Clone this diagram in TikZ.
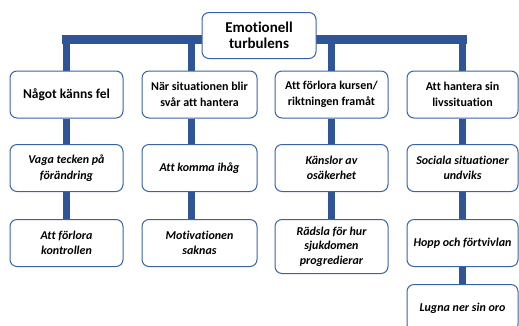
\documentclass[tikz,border=0pt]{standalone}
\usepackage{fontspec}
\setmainfont{Carlito}[Ligatures=NoCommon]
\usetikzlibrary{positioning, backgrounds}
\definecolor{barblue}{HTML}{2F5597}
\definecolor{edgeblue}{HTML}{3A62AA}

\begin{document}
\begin{tikzpicture}[x=1pt, y=-1pt,
			box/.style = {rectangle, rounded corners=7pt, draw=edgeblue, line width=1pt, fill=white, align=center, anchor=north, minimum height=47pt, inner sep=2pt},
			head/.style = {box, minimum width=114pt, minimum height=46pt, font=\bfseries\fontsize{15}{16}\selectfont},
			topic/.style = {box, font=\bfseries\fontsize{12}{15.5}\selectfont},
			item/.style = {box, font=\bfseries\itshape\fontsize{12}{15.5}\selectfont},
			hbar/.style = {barblue, line width=9pt, line cap=rect},
			vbar/.style = {barblue, line width=7pt},
		]

		\useasboundingbox (0,0) rectangle (519,325);
		\clip (0,0) rectangle (519,325);

		\node[head] (top) at (259,12){Emotionell\\turbulens};

		\node[topic, minimum width=113pt, font=\bfseries\fontsize{13.5}{16}\selectfont] (a1) at (66.5,70.5){Något känns fel};
		\node[topic, minimum width=115pt] (b1) at (199.5,70.5){När situationen blir\\svår att hantera};
		\node[topic, minimum width=113pt] (c1) at (331.5,70.5){Att förlora kursen/\\riktningen framåt};
		\node[topic, minimum width=111pt] (d1) at (462.5,70.5){Att hantera sin\\livssituation};

		\node[item, minimum width=113pt] (a2) at (66.5,144){Vaga tecken på\\förändring};
		\node[item, minimum width=115pt] (b2) at (199.5,144){Att komma ihåg};
		\node[item, minimum width=113pt] (c2) at (331.5,144){Känslor av\\osäkerhet};
		\node[item, minimum width=111pt] (d2) at (462.5,144){Sociala situationer\\undviks};

		\node[item, minimum width=113pt] (a3) at (66.5,219){Att förlora\\kontrollen};
		\node[item, minimum width=115pt] (b3) at (199.5,219){Motivationen\\saknas};
		\node[item, minimum width=113pt, minimum height=54pt, font=\bfseries\itshape\fontsize{12}{14.5}\selectfont] (c3) at (331.5,219){Rädsla för hur\\sjukdomen\\progredierar};
		\node[item, minimum width=111pt] (d3) at (462.5,219){Hopp och förtvivlan};

		\node[item, minimum width=111pt] (d4) at (462.5,284){Lugna ner sin oro};

		\begin{scope}[on background layer]
			% bar under the top box
			\draw[hbar]([yshift=-3.5pt]top.center -| a1.north)--([yshift=-3.5pt]top.center -| d1.north);
			\draw[vbar](a1.north)--([yshift=-3.5pt]top.center -| a1.north);
			\draw[vbar]([xshift=-8.5pt]b1.north)--([yshift=-3.5pt,xshift=-8.5pt]top.center -| b1.north);
			\draw[vbar](c1.north)--([yshift=-3.5pt]top.center -| c1.north);
			\draw[vbar](d1.north)--([yshift=-3.5pt]top.center -| d1.north);

			% columns
			\draw[vbar](a1.south)--(a2.north);
			\draw[vbar](a2.south)--(a3.north);
			\draw[vbar]([xshift=-8.5pt]b1.south)--([xshift=-8.5pt]b2.north);
			\draw[vbar]([xshift=-8.5pt]b2.south)--([xshift=-8.5pt]b3.north);
			\draw[vbar](c1.south)--(c2.north);
			\draw[vbar](c2.south)--(c3.north);
			\draw[vbar](d1.south)--(d2.north);
			\draw[vbar](d2.south)--(d3.north);
			\draw[vbar](d3.south)--(d4.north);
		\end{scope}

	\end{tikzpicture}
\end{document}
